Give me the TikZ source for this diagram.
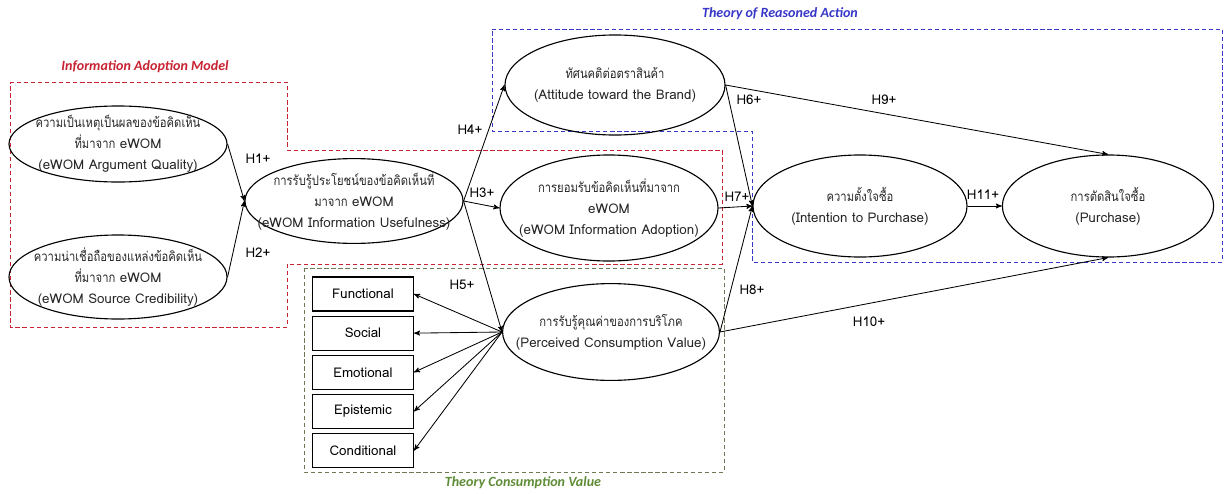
\documentclass[tikz,border=0pt]{standalone}
\usepackage{fontspec}
\setmainfont{Carlito}
\newfontfamily\thaifont[Script=Thai]{Loma}
\newfontfamily\thainarrow[Script=Thai,FakeStretch=0.84]{Loma}
\usepackage{tikz}
\usetikzlibrary{arrows,shapes,positioning,calc}
\definecolor{iamred}{RGB}{200,35,50}
\definecolor{trablue}{RGB}{55,55,200}
\definecolor{tcvgreen}{RGB}{95,140,55}
\definecolor{tcvline}{RGB}{110,120,85}
\tikzset{
    latent/.style={
        ellipse,
        draw=black,
        line width=0.8pt,
        inner sep=0pt,
    },
    latent-text/.style={
        align=center,
        font=\thaifont\fontsize{9.5}{15}\selectfont,
        text=black!85,
    },
    value-box/.style={
        rectangle,
        draw=black,
        line width=0.8pt,
        minimum width=2.52cm,
        minimum height=0.85cm,
        font=\thaifont\fontsize{9.5}{12}\selectfont,
    },
    hyp/.style={
        font=\thaifont\fontsize{9.5}{12}\selectfont,
    },
    theory-box/.style={
        line width=0.6pt,
        dash pattern=on 3pt off 2pt,
    },
    theory/.style={
        font=\bfseries\itshape\fontsize{10}{12}\selectfont,
    },
    every edge/.style={
        draw,
        ->,>=stealth',
        semithick,
    },
}
\begin{document}
\begin{tikzpicture}[x=0.025cm,y=-0.025cm]
    \useasboundingbox (0,0) rectangle (1227,493);
    % theory frames
    \draw [theory-box,draw=iamred] (10,82) -- (287,82) -- (287,150) -- (722,150) -- (722,264) -- (287,264) -- (287,327) -- (10,327) -- cycle;
    \draw [theory-box,draw=trablue] (492,29) -- (1222,29) -- (1222,262) -- (752,262) -- (752,131) -- (492,131) -- cycle;
    \draw [theory-box,draw=tcvline] (304,268) rectangle (724,472);
    \node [theory,text=iamred] at (145,67) (iam) {Information Adoption Model};
    \node [theory,text=trablue] at (780,14) (tra) {Theory of Reasoned Action};
    \node [theory,text=tcvgreen] at (523,483) (tcv) {Theory Consumption Value};

    % constructs
    \node [latent,minimum width=5.45cm,minimum height=1.9cm,label={[latent-text]center:{{\thainarrow ความเป็นเหตุเป็นผลของข้อคิดเห็น}\\{\thainarrow ที่มาจาก} eWOM\\(eWOM Argument Quality)}}] at (118,144) (Qual) {};
    \node [latent,minimum width=5.45cm,minimum height=2.1cm,label={[latent-text]center:{{\thainarrow ความน่าเชื่อถือของแหล่งข้อคิดเห็น}\\{\thainarrow ที่มาจาก} eWOM\\(eWOM Source Credibility)}}] at (118,277) (Cred) {};
    \node [latent,minimum width=5.45cm,minimum height=2.12cm,label={[latent-text]center:{{\thainarrow การรับรู้ประโยชน์ของข้อคิดเห็นที่}\\{\thainarrow มาจาก} eWOM\\(eWOM Information Usefulness)}}] at (354,201) (Useful) {};
    \node [latent,minimum width=5.5cm,minimum height=2.5cm,label={[latent-text]center:{{\thainarrow ทัศนคติต่อตราสินค้า}\\(Attitude toward the Brand)}}] at (615,85) (Att) {};
    \node [latent,minimum width=5.45cm,minimum height=2.65cm,label={[latent-text]center:{{\thainarrow การยอมรับข้อคิดเห็นที่มาจาก}\\eWOM\\(eWOM Information Adoption)}}] at (609,208) (Adopt) {};
    \node [latent,minimum width=5.42cm,minimum height=2.42cm,label={[latent-text]center:{{\thainarrow การรับรู้คุณค่าของการบริโภค}\\(Perceived Consumption Value)}}] at (611,332) (PCV) {};
    \node [latent,minimum width=5.35cm,minimum height=2.55cm,label={[latent-text]center:{{\thainarrow ความตั้งใจซื้อ}\\(Intention to Purchase)}}] at (860,206) (Intent) {};
    \node [latent,minimum width=5.28cm,minimum height=2.55cm,label={[latent-text]center:{{\thainarrow การตัดสินใจซื้อ}\\(Purchase)}}] at (1108,206) (Purch) {};

    % consumption values
    \node [value-box] at (363,294) (Func) {Functional};
    \node [value-box,below=1mm of Func] (Soc) {Social};
    \node [value-box,below=1mm of Soc] (Emo) {Emotional};
    \node [value-box,below=1mm of Emo] (Epi) {Epistemic};
    \node [value-box,below=1mm of Epi] (Cond) {Conditional};

    % paths
    \draw (Qual.east) edge (Useful.west);
    \draw (Cred.east) edge (Useful.west);
    \draw (Useful.east) edge (Att.west);
    \draw (Useful.east) edge (Adopt.west);
    \draw (Useful.east) edge (PCV.west);
    \draw (Att.east) edge (Intent.west);
    \draw (Att.east) edge (Purch.north);
    \draw (Adopt.east) edge (Intent.west);
    \draw (PCV.east) edge (Intent.west);
    \draw (PCV.east) edge (Purch.south);
    \draw (Intent.east) edge (Purch.west);
    \draw (PCV.west) edge (Func.east);
    \draw (PCV.west) edge (Soc.east);
    \draw (PCV.west) edge (Emo.east);
    \draw (PCV.west) edge (Epi.east);
    \draw (PCV.west) edge (Cond.east);

    % hypotheses
    \node [hyp] at (258,159) (h1) {H1+};
    \node [hyp] at (258,253) (h2) {H2+};
    \node [hyp] at (482,193) (h3) {H3+};
    \node [hyp] at (470,130) (h4) {H4+};
    \node [hyp] at (462,285) (h5) {H5+};
    \node [hyp] at (749,100) (h6) {H6+};
    \node [hyp] at (737,197) (h7) {H7+};
    \node [hyp] at (752,290) (h8) {H8+};
    \node [hyp] at (884,100) (h9) {H9+};
    \node [hyp] at (869,322) (h10) {H10+};
    \node [hyp] at (983,195) (h11) {H11+};
\end{tikzpicture}
\end{document}
